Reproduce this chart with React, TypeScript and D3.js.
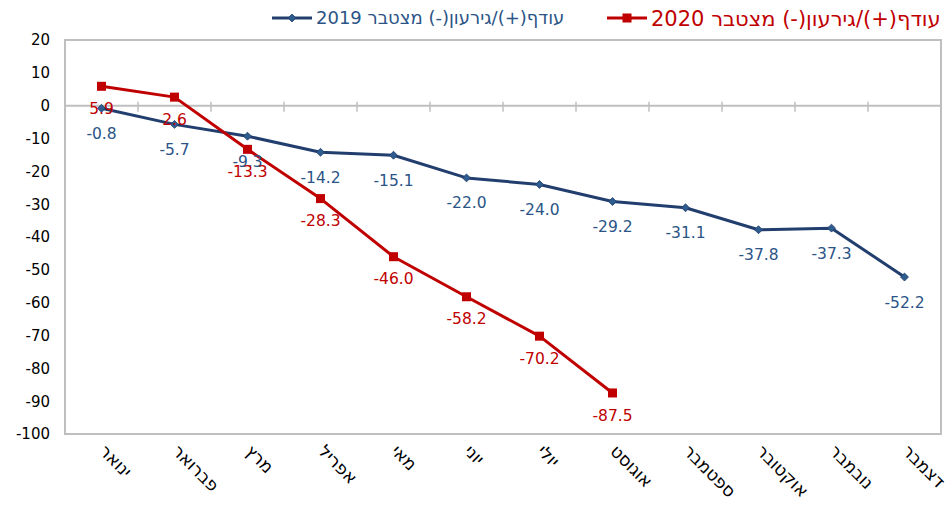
import React, { useEffect, useRef } from 'react'
import * as d3 from 'd3'

const MONTHS = ['ינואר', 'פברואר', 'מרץ', 'אפריל', 'מאי', 'יוני', 'יולי', 'אוגוסט', 'ספטמבר', 'אוקטובר', 'נובמבר', 'דצמבר']
const DEFICIT_2019 = [-0.8, -5.7, -9.3, -14.2, -15.1, -22.0, -24.0, -29.2, -31.1, -37.8, -37.3, -52.2]
const DEFICIT_2020 = [5.9, 2.6, -13.3, -28.3, -46.0, -58.2, -70.2, -87.5]
const Y_TICKS = [20, 10, 0, -10, -20, -30, -40, -50, -60, -70, -80, -90, -100]
const LEGEND_2019 = 'עודף(+)/גירעון(-) מצטבר 2019'
const LEGEND_2020 = 'עודף(+)/גירעון(-) מצטבר 2020'

const FONT = '"DejaVu Sans", sans-serif'
const BLUE = '#223E6E'
const BLUE_TEXT = '#2B5486'
const RED = '#C00000'
const GRID = '#BFBFBF'

function DeficitChart() {
  const svgRef = useRef<SVGSVGElement>(null)

  useEffect(() => {
    if (!svgRef.current) return
    const width = 952
    const height = 509
    const plot = { left: 65, right: 941, top: 40, bottom: 434 }

    const svg = d3.select(svgRef.current)
    svg.selectAll('*').remove()

    const x = d3.scaleBand<string>().domain(MONTHS).range([plot.left, plot.right])
    const cx = (i: number) => (x(MONTHS[i]) ?? 0) + x.bandwidth() / 2
    const y = d3.scaleLinear().domain([-100, 20]).range([plot.bottom, plot.top])

    // plot frame
    svg
      .append('rect')
      .attr('x', plot.left)
      .attr('y', plot.top)
      .attr('width', plot.right - plot.left)
      .attr('height', plot.bottom - plot.top)
      .attr('fill', 'none')
      .attr('stroke', GRID)
      .attr('stroke-width', 2)

    // zero line + category ticks
    svg
      .append('line')
      .attr('x1', plot.left)
      .attr('x2', plot.right)
      .attr('y1', y(0))
      .attr('y2', y(0))
      .attr('stroke', GRID)
      .attr('stroke-width', 2)

    svg
      .append('g')
      .selectAll('line')
      .data(MONTHS.slice(1))
      .enter()
      .append('line')
      .attr('x1', (d) => x(d) ?? 0)
      .attr('x2', (d) => x(d) ?? 0)
      .attr('y1', y(0) - 4)
      .attr('y2', y(0) + 6)
      .attr('stroke', GRID)
      .attr('stroke-width', 1.5)

    // y tick labels
    svg
      .append('g')
      .selectAll('text')
      .data(Y_TICKS)
      .enter()
      .append('text')
      .attr('x', 50)
      .attr('y', (d) => y(d))
      .attr('dy', '0.36em')
      .attr('text-anchor', 'end')
      .attr('font-family', FONT)
      .attr('font-size', 15)
      .attr('fill', '#000')
      .text((d) => d)

    // x labels rotated
    svg
      .append('g')
      .selectAll('text')
      .data(MONTHS)
      .enter()
      .append('text')
      .attr('transform', (_, i) => `translate(${cx(i) + 6},${plot.bottom + 9}) rotate(45)`)
      .attr('dy', '0.75em')
      .attr('text-anchor', 'start')
      .attr('font-family', FONT)
      .attr('font-size', 17.5)
      .attr('fill', '#000')
      .text((d) => d)

    const line = d3
      .line<number>()
      .x((_, i) => cx(i))
      .y((d) => y(d))

    // 2019 series
    svg
      .append('path')
      .datum(DEFICIT_2019)
      .attr('fill', 'none')
      .attr('stroke', BLUE)
      .attr('stroke-width', 3)
      .attr('stroke-linejoin', 'round')
      .attr('d', line)

    svg
      .append('g')
      .selectAll('path')
      .data(DEFICIT_2019)
      .enter()
      .append('path')
      .attr('transform', (d, i) => `translate(${cx(i)},${y(d)}) rotate(45)`)
      .attr('d', 'M-2.8,-2.8H2.8V2.8H-2.8Z')
      .attr('fill', '#2E5C8E')
      .attr('stroke', BLUE)
      .attr('stroke-width', 0.8)

    // 2020 series
    svg
      .append('path')
      .datum(DEFICIT_2020)
      .attr('fill', 'none')
      .attr('stroke', RED)
      .attr('stroke-width', 3)
      .attr('stroke-linejoin', 'round')
      .attr('d', line)

    svg
      .append('g')
      .selectAll('rect')
      .data(DEFICIT_2020)
      .enter()
      .append('rect')
      .attr('x', (_, i) => cx(i) - 4.5)
      .attr('y', (d) => y(d) - 4.5)
      .attr('width', 9)
      .attr('height', 9)
      .attr('fill', RED)

    // data labels
    svg
      .append('g')
      .selectAll('text')
      .data(DEFICIT_2019)
      .enter()
      .append('text')
      .attr('x', (_, i) => cx(i))
      .attr('y', (d) => y(d) + 25)
      .attr('dy', '0.36em')
      .attr('text-anchor', 'middle')
      .attr('font-family', FONT)
      .attr('font-size', 15.5)
      .attr('fill', BLUE_TEXT)
      .text((d) => d.toFixed(1))

    svg
      .append('g')
      .selectAll('text')
      .data(DEFICIT_2020)
      .enter()
      .append('text')
      .attr('x', (_, i) => cx(i))
      .attr('y', (d) => y(d) + 22)
      .attr('dy', '0.36em')
      .attr('text-anchor', 'middle')
      .attr('font-family', FONT)
      .attr('font-size', 15.5)
      .attr('fill', RED)
      .text((d) => d.toFixed(1))

    // legend
    const legend = [
      { label: LEGEND_2019, color: BLUE, text: BLUE_TEXT, x0: 272, size: 18, marker: 'diamond' },
      { label: LEGEND_2020, color: RED, text: RED, x0: 607, size: 21, marker: 'square' },
    ]
    const lg = svg.append('g')
    legend.forEach((l) => {
      const ly = 18
      lg.append('line')
        .attr('x1', l.x0)
        .attr('x2', l.x0 + 40)
        .attr('y1', ly)
        .attr('y2', ly)
        .attr('stroke', l.color)
        .attr('stroke-width', 3)
      if (l.marker === 'diamond') {
        lg.append('path')
          .attr('transform', `translate(${l.x0 + 20},${ly}) rotate(45)`)
          .attr('d', 'M-2.8,-2.8H2.8V2.8H-2.8Z')
          .attr('fill', '#2E5C8E')
          .attr('stroke', BLUE)
          .attr('stroke-width', 0.8)
      } else {
        lg.append('rect')
          .attr('x', l.x0 + 15.5)
          .attr('y', ly - 4.5)
          .attr('width', 9)
          .attr('height', 9)
          .attr('fill', RED)
      }
      lg.append('text')
        .attr('x', l.x0 + 44)
        .attr('y', ly)
        .attr('dy', '0.36em')
        .attr('font-family', FONT)
        .attr('font-size', l.size)
        .attr('fill', l.text)
        .text(l.label)
    })

    svg.attr('width', width).attr('height', height)
  }, [])

  return (
    <svg
      ref={svgRef}
      width={952}
      height={509}
      style={{ position: 'absolute', left: 0, top: 0, background: '#fff' }}
    />
  )
}

export default function App() {
  return <DeficitChart />
}
